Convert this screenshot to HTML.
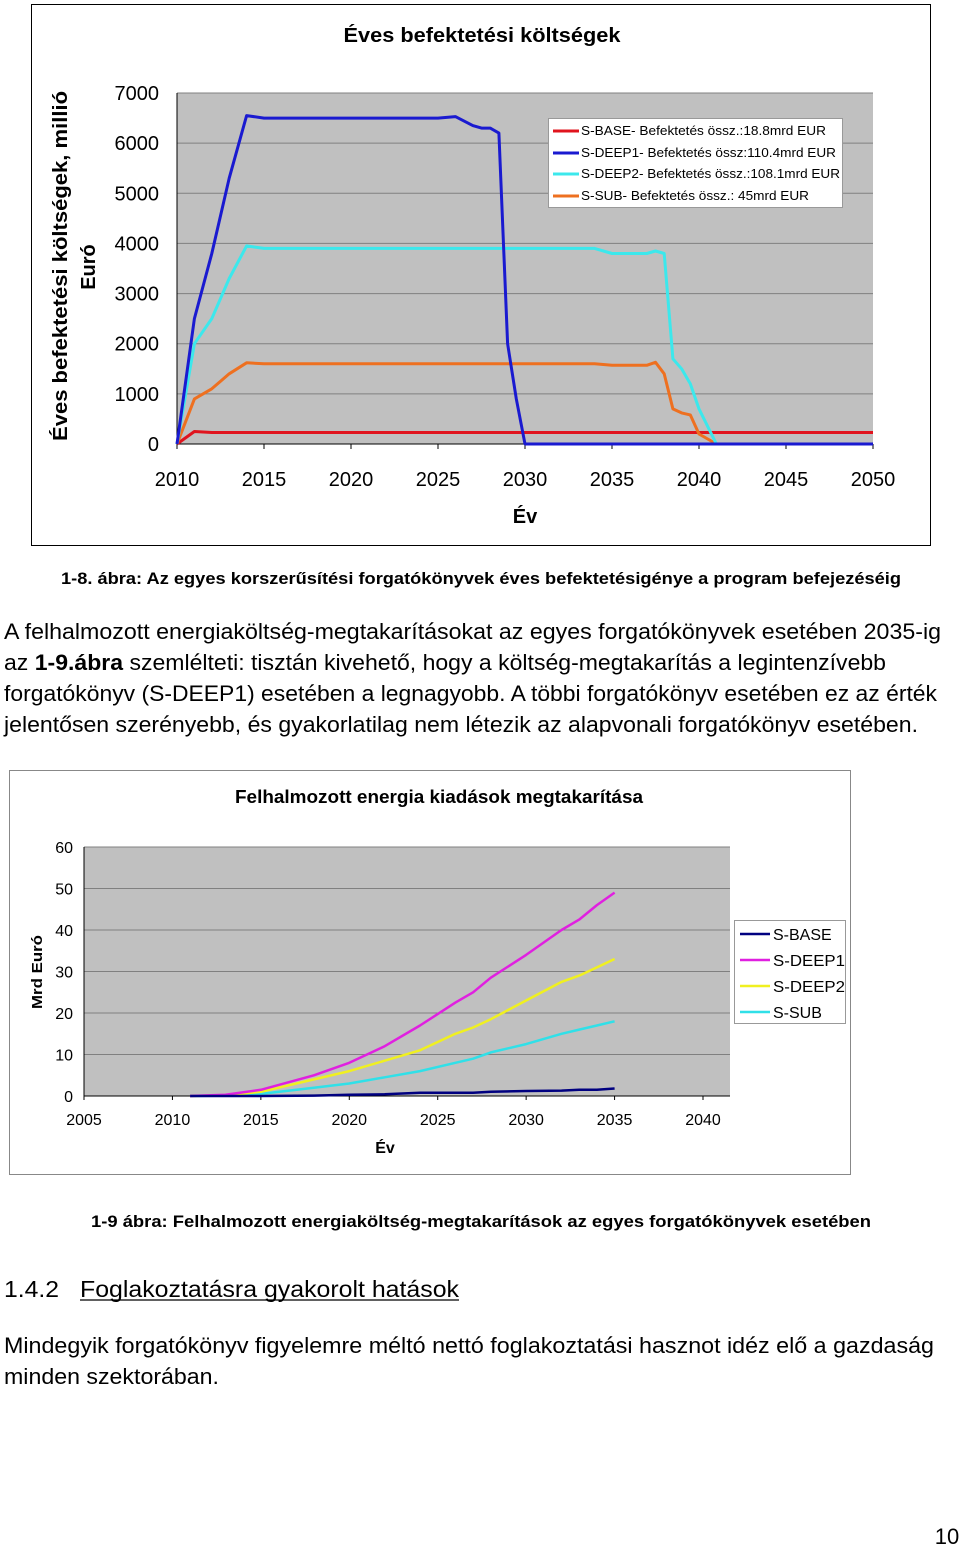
<!DOCTYPE html>
<html><head><meta charset="utf-8"><style>
html,body{margin:0;padding:0;background:#fff}
svg{display:block}
text{font-family:"Liberation Sans",sans-serif}
</style></head><body>
<svg id="page" width="960" height="1547" viewBox="0 0 960 1547" xmlns="http://www.w3.org/2000/svg">
<rect x="31.5" y="4.5" width="899" height="541" fill="#fff" stroke="#000"/>
<text x="482" y="42" font-size="20" font-weight="bold" text-anchor="middle" textLength="277" lengthAdjust="spacingAndGlyphs">Éves befektetési költségek</text>
<rect x="177" y="93" width="696" height="351" fill="#c0c0c0"/>
<g id="c1grid"></g>
<g id="c1lines"></g>
<g>
<rect x="548.5" y="118.5" width="294" height="89" fill="#fff" stroke="#999"/>
<line x1="553" y1="131" x2="579" y2="131" stroke="#e0141e" stroke-width="3"/><text x="581" y="135" font-size="12.5" textLength="245" lengthAdjust="spacingAndGlyphs">S-BASE- Befektetés össz.:18.8mrd EUR</text>
<line x1="553" y1="153" x2="579" y2="153" stroke="#1a1ad0" stroke-width="3"/><text x="581" y="157" font-size="12.5" textLength="255" lengthAdjust="spacingAndGlyphs">S-DEEP1- Befektetés össz:110.4mrd EUR</text>
<line x1="553" y1="174" x2="579" y2="174" stroke="#3ce8ec" stroke-width="3"/><text x="581" y="178" font-size="12.5" textLength="259" lengthAdjust="spacingAndGlyphs">S-DEEP2- Befektetés össz.:108.1mrd EUR</text>
<line x1="553" y1="196" x2="579" y2="196" stroke="#ee7020" stroke-width="3"/><text x="581" y="200" font-size="12.5" textLength="228" lengthAdjust="spacingAndGlyphs">S-SUB- Befektetés össz.: 45mrd EUR</text>
</g>
<text transform="translate(67,266) rotate(-90)" font-size="20" font-weight="bold" text-anchor="middle" textLength="350" lengthAdjust="spacingAndGlyphs">Éves befektetési költségek, millió</text>
<text transform="translate(95,267) rotate(-90)" font-size="20" font-weight="bold" text-anchor="middle">Euró</text>
<text x="525" y="523" font-size="20" font-weight="bold" text-anchor="middle">Év</text>

<text x="481" y="584" font-size="17" font-weight="bold" text-anchor="middle" textLength="840" lengthAdjust="spacingAndGlyphs">1-8. ábra: Az egyes korszerűsítési forgatókönyvek éves befektetésigénye a program befejezéséig</text>
<g font-size="22">
<text x="4" y="639" textLength="937" lengthAdjust="spacingAndGlyphs">A felhalmozott energiaköltség-megtakarításokat az egyes forgatókönyvek esetében 2035-ig</text>
<text x="4" y="670" textLength="882" lengthAdjust="spacingAndGlyphs">az <tspan font-weight="bold">1-9.ábra</tspan> szemlélteti: tisztán kivehető, hogy a költség-megtakarítás a legintenzívebb</text>
<text x="4" y="701" textLength="933" lengthAdjust="spacingAndGlyphs">forgatókönyv (S-DEEP1) esetében a legnagyobb. A többi forgatókönyv esetében ez az érték</text>
<text x="4" y="732" textLength="914" lengthAdjust="spacingAndGlyphs">jelentősen szerényebb, és gyakorlatilag nem létezik az alapvonali forgatókönyv esetében.</text>
</g>

<rect x="9.5" y="770.5" width="841" height="404" fill="#fff" stroke="#888"/>
<text x="439" y="803" font-size="18" font-weight="bold" text-anchor="middle" textLength="408" lengthAdjust="spacingAndGlyphs">Felhalmozott energia kiadások megtakarítása</text>
<rect x="84" y="847" width="646" height="249" fill="#c0c0c0"/>
<g id="c2grid"></g>
<g id="c2lines"></g>
<text transform="translate(42,972) rotate(-90)" font-size="15" font-weight="bold" text-anchor="middle" textLength="74" lengthAdjust="spacingAndGlyphs">Mrd Euró</text>
<text x="385" y="1153" font-size="16" font-weight="bold" text-anchor="middle">Év</text>
<g>
<rect x="734.5" y="920.5" width="111" height="103" fill="#fff" stroke="#999"/>
<line x1="740" y1="934" x2="770" y2="934" stroke="#000080" stroke-width="2.5"/><text x="773" y="940" font-size="16">S-BASE</text>
<line x1="740" y1="960" x2="770" y2="960" stroke="#e020e0" stroke-width="2.5"/><text x="773" y="966" font-size="16" textLength="72" lengthAdjust="spacingAndGlyphs">S-DEEP1</text>
<line x1="740" y1="986" x2="770" y2="986" stroke="#f0f020" stroke-width="2.5"/><text x="773" y="992" font-size="16" textLength="72" lengthAdjust="spacingAndGlyphs">S-DEEP2</text>
<line x1="740" y1="1012" x2="770" y2="1012" stroke="#30e0e8" stroke-width="2.5"/><text x="773" y="1018" font-size="16">S-SUB</text>
</g>
<text x="481" y="1227" font-size="17" font-weight="bold" text-anchor="middle" textLength="780" lengthAdjust="spacingAndGlyphs">1-9 ábra: Felhalmozott energiaköltség-megtakarítások az egyes forgatókönyvek esetében</text>
<text x="4" y="1297" font-size="23" textLength="55" lengthAdjust="spacingAndGlyphs">1.4.2</text>
<text x="80" y="1297" font-size="23" textLength="379" lengthAdjust="spacingAndGlyphs">Foglakoztatásra gyakorolt hatások</text>
<line x1="80" y1="1300" x2="459" y2="1300" stroke="#000" stroke-width="1.3"/>
<g font-size="22">
<text x="4" y="1353" textLength="930" lengthAdjust="spacingAndGlyphs">Mindegyik forgatókönyv figyelemre méltó nettó foglakoztatási hasznot idéz elő a gazdaság</text>
<text x="4" y="1384" textLength="215" lengthAdjust="spacingAndGlyphs">minden szektorában.</text>
</g>
<text x="947" y="1544" font-size="22" text-anchor="middle" font-family="Liberation Serif">10</text>
</svg>
<script>
const NS='http://www.w3.org/2000/svg';
const c1Years=[2010,2011,2012,2013,2014,2015,2020,2025,2026,2027,2027.5,2028,2028.5,2029,2029.5,2030,2031,2040,2050];
const c1Deep1=[0,2500,3800,5300,6550,6500,6500,6500,6530,6350,6300,6300,6200,2000,900,0,0,0,0];
const c2Years1=[2010,2011,2012,2013,2014,2015,2020,2030,2034,2035,2036,2037,2037.5,2038,2038.5,2039,2039.5,2040,2041,2050];
const c1Deep2=[0,2000,2500,3300,3950,3900,3900,3900,3900,3800,3800,3800,3850,3800,1700,1500,1200,700,0,0];
const c1Sub=[0,900,1100,1400,1620,1600,1600,1600,1600,1570,1570,1570,1630,1400,700,620,580,200,0,0];
const c1BaseYears=[2010,2011,2012,2050];
const c1Base=[0,250,230,230];
const c1YTicks=[0,1000,2000,3000,4000,5000,6000,7000];
const c1XTicks=[2010,2015,2020,2025,2030,2035,2040,2045,2050];
const c2Years=[2011,2013,2015,2018,2020,2022,2024,2026,2027,2028,2030,2032,2033,2034,2035];
const c2Deep1=[0,0.3,1.5,5,8,12,17,22.5,25,28.5,34,40,42.5,46,49];
const c2Deep2=[0,0.2,1,4,6,8.5,11,15,16.5,18.5,23,27.5,29,31,33];
const c2Sub=[0,0.1,0.5,2,3,4.5,6,8,9,10.5,12.5,15,16,17,18];
const c2Base=[0,0,0,0.1,0.3,0.4,0.8,0.8,0.8,1,1.2,1.3,1.5,1.5,1.8];
const c2YTicks=[0,10,20,30,40,50,60];
const c2XTicks=[2005,2010,2015,2020,2025,2030,2035,2040];

function mk(tag,attrs,parent){const e=document.createElementNS(NS,tag);for(const k in attrs)e.setAttribute(k,attrs[k]);parent.appendChild(e);return e;}

const x1=y=>177+(y-2010)*(696/40);
const y1=v=>444-v*(351/7000);
const g1=document.getElementById('c1grid');
c1YTicks.forEach(t=>{
  if(t>0){const l=mk('line',{x1:177,x2:873,y1:y1(t),y2:y1(t),stroke:'#808080','stroke-width':1},g1);
  
  }
  const tx=mk('text',{x:159,y:y1(t)+7,'font-size':20,'text-anchor':'end'},g1);tx.textContent=t;
  
  
});
mk('line',{x1:177,x2:177,y1:93,y2:444,stroke:'#000'},g1);
mk('line',{x1:177,x2:873,y1:444,y2:444,stroke:'#000'},g1);
c1XTicks.forEach(t=>{
  mk('line',{x1:x1(t),x2:x1(t),y1:444,y2:449,stroke:'#000'},g1);
  const tx=mk('text',{x:x1(t),y:486,'font-size':20,'text-anchor':'middle'},g1);tx.textContent=t;
  
  
});
function line(g,xs,vs,fx,fy,color,w,name){
  const d=xs.map((x,i)=>(i?'L':'M')+fx(x).toFixed(1)+','+fy(vs[i]).toFixed(1)).join('');
  const p=mk('path',{d:d,fill:'none',stroke:color,'stroke-width':w,'stroke-linejoin':'round'},g);
  
  
}
const l1=document.getElementById('c1lines');
line(l1,c1BaseYears,c1Base,x1,y1,'#e0141e',3,'line-s-base');
line(l1,c2Years1,c1Sub,x1,y1,'#ee7020',3,'line-s-sub');
line(l1,c2Years1,c1Deep2,x1,y1,'#3ce8ec',3,'line-s-deep2');
line(l1,c1Years,c1Deep1,x1,y1,'#1a1ad0',3,'line-s-deep1');

const x2=y=>84+(y-2005)*(619/35);
const y2=v=>1096-v*(249/60);
const g2=document.getElementById('c2grid');
c2YTicks.forEach(t=>{
  if(t>0){const l=mk('line',{x1:84,x2:730,y1:y2(t),y2:y2(t),stroke:'#808080','stroke-width':1},g2);
  
  }
  const tx=mk('text',{x:73,y:y2(t)+6,'font-size':16,'text-anchor':'end'},g2);tx.textContent=t;
  
  
});
mk('line',{x1:84,x2:84,y1:847,y2:1096,stroke:'#000'},g2);
mk('line',{x1:84,x2:730,y1:1096,y2:1096,stroke:'#000'},g2);
c2XTicks.forEach(t=>{
  mk('line',{x1:x2(t),x2:x2(t),y1:1096,y2:1100,stroke:'#000'},g2);
  const tx=mk('text',{x:x2(t),y:1125,'font-size':16,'text-anchor':'middle'},g2);tx.textContent=t;
  
  
});
const l2=document.getElementById('c2lines');
line(l2,c2Years,c2Sub,x2,y2,'#30e0e8',2.5,'line2-s-sub');
line(l2,c2Years,c2Deep2,x2,y2,'#f0f020',2.5,'line2-s-deep2');
line(l2,c2Years,c2Deep1,x2,y2,'#e020e0',2.5,'line2-s-deep1');
line(l2,c2Years,c2Base,x2,y2,'#000080',2.5,'line2-s-base');
</script>
</body></html>
